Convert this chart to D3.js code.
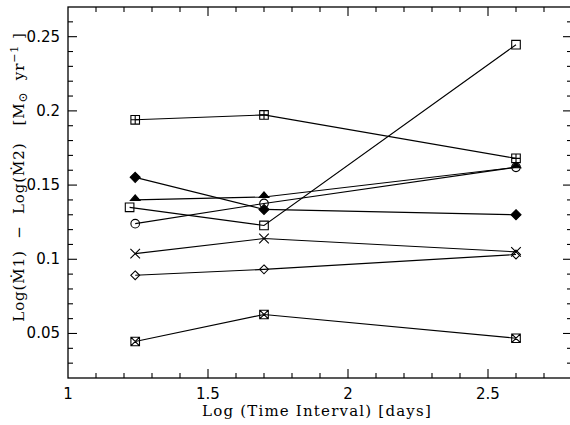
<!DOCTYPE html>
<html>
<head>
<meta charset="utf-8">
<script src="https://cdn.jsdelivr.net/npm/d3@7"></script>
<style>
  body { margin: 0; background: #fff; }
  svg { display: block; }
  text { fill: #000; }
</style>
</head>
<body>
<svg id="chart" width="570" height="425"></svg>
<script>
// x positions of the three intervals
var timeX = [1.24, 1.70, 2.60];
var timeXSquare = [1.22, 1.70, 2.60];

var plusSquare = [0.194, 0.1973, 0.168];
var filledDiamond = [0.1552, 0.1336, 0.130];
var filledTriangle = [0.140, 0.142, 0.162];
var openSquare = [0.135, 0.1228, 0.2446];
var openCircle = [0.124, 0.1376, 0.162];
var crossMark = [0.1038, 0.114, 0.105];
var openDiamond = [0.0892, 0.0932, 0.1032];
var crossSquare = [0.0446, 0.0628, 0.0468];

var xTicks = [1, 1.5, 2, 2.5];
var yTicks = [0.05, 0.1, 0.15, 0.2, 0.25];

var series = [
    { sym: "plusSquare", xs: timeX, ys: plusSquare },
    { sym: "filledDiamond", xs: timeX, ys: filledDiamond },
    { sym: "openSquare", xs: timeXSquare, ys: openSquare },
    { sym: "openCircle", xs: timeX, ys: openCircle },
    { sym: "filledTriangle", xs: timeX, ys: filledTriangle },
    { sym: "cross", xs: timeX, ys: crossMark },
    { sym: "openDiamond", xs: timeX, ys: openDiamond },
    { sym: "crossSquare", xs: timeX, ys: crossSquare }
];

var margin = { top: 7, right: -2, bottom: 47, left: 68 };
var width = 570, height = 425;

var x = d3.scaleLinear().domain([1, 2.8]).range([margin.left, width - margin.right]);
var y = d3.scaleLinear().domain([0.02, 0.27]).range([height - margin.bottom, margin.top]);

var svg = d3.select("#chart");

// frame
svg.append("rect")
    .attr("x", x(1)).attr("y", y(0.27))
    .attr("width", x(2.8) - x(1)).attr("height", y(0.02) - y(0.27))
    .attr("fill", "none").attr("stroke", "#000").attr("stroke-width", 1.3);

var xMinor = d3.range(11, 28).map(d => d / 10);
var yMinor = d3.range(3, 27).map(d => d / 100);
var isMajorX = v => Math.abs(v * 2 - Math.round(v * 2)) < 1e-6;
var isMajorY = v => Math.abs(v * 20 - Math.round(v * 20)) < 1e-6;

var ticks = svg.append("g").attr("stroke", "#000").attr("stroke-width", 1.1);
xMinor.forEach(function (v) {
    var len = isMajorX(v) ? 9 : 5;
    ticks.append("line").attr("x1", x(v)).attr("x2", x(v))
        .attr("y1", y(0.02)).attr("y2", y(0.02) - len);
    ticks.append("line").attr("x1", x(v)).attr("x2", x(v))
        .attr("y1", y(0.27)).attr("y2", y(0.27) + len);
});
yMinor.forEach(function (v) {
    var len = isMajorY(v) ? 9 : 5;
    ticks.append("line").attr("x1", x(1)).attr("x2", x(1) + len)
        .attr("y1", y(v)).attr("y2", y(v));
    ticks.append("line").attr("x1", x(2.8)).attr("x2", x(2.8) - len)
        .attr("y1", y(v)).attr("y2", y(v));
});

// tick labels
svg.append("g")
    .attr("font-family", "DejaVu Sans, sans-serif")
    .attr("font-size", 15)
    .attr("text-anchor", "middle")
    .selectAll("text")
    .data(xTicks)
    .join("text")
    .attr("x", d => x(d))
    .attr("y", 399)
    .text(d => d3.format("")(d));

svg.append("g")
    .attr("font-family", "DejaVu Sans, sans-serif")
    .attr("font-size", 15)
    .attr("text-anchor", "end")
    .selectAll("text")
    .data(yTicks)
    .join("text")
    .attr("x", 60)
    .attr("y", d => y(d) + 5)
    .text(d => d3.format("")(d));

// axis titles
svg.append("text")
    .attr("x", 317).attr("y", 416)
    .attr("text-anchor", "middle")
    .attr("font-family", "DejaVu Serif, serif")
    .attr("font-size", 15)
    .attr("letter-spacing", 1.2)
    .text("Log (Time Interval) [days]");

var ylab = svg.append("text")
    .attr("transform", "translate(24,177) rotate(-90)")
    .attr("text-anchor", "middle")
    .attr("font-family", "DejaVu Serif, serif")
    .attr("font-size", 15)
    .attr("letter-spacing", 0.9)
    .attr("xml:space", "preserve");
ylab.append("tspan").text("Log(\u1E401)  \u2212  Log(\u1E402)   [M");
ylab.append("tspan").attr("font-size", 12).attr("dy", 3).text("\u2299");
ylab.append("tspan").attr("dy", -3).text("  yr");
ylab.append("tspan").attr("font-size", 11).attr("dy", -6).text("\u22121");
ylab.append("tspan").attr("dy", 6).text(" ]");

// lines
var line = d3.line().x(d => x(d[0])).y(d => y(d[1]));
svg.append("g")
    .selectAll("path")
    .data(series)
    .join("path")
    .attr("d", s => line(s.xs.map((v, i) => [v, s.ys[i]])))
    .attr("fill", "none")
    .attr("stroke", "#000")
    .attr("stroke-width", 1.1);

// markers
var r = 4.3;
function markerPath(sym, cx, cy) {
    var p = d3.path();
    if (sym == "plusSquare" || sym == "openSquare" || sym == "crossSquare") {
        p.rect(cx - r, cy - r, 2 * r, 2 * r);
        if (sym == "plusSquare") {
            p.moveTo(cx, cy - r); p.lineTo(cx, cy + r);
            p.moveTo(cx - r, cy); p.lineTo(cx + r, cy);
        }
        if (sym == "crossSquare") {
            p.moveTo(cx - r, cy - r); p.lineTo(cx + r, cy + r);
            p.moveTo(cx + r, cy - r); p.lineTo(cx - r, cy + r);
        }
    } else if (sym == "filledDiamond" || sym == "openDiamond") {
        var d = sym == "filledDiamond" ? 5 : 4.4;
        p.moveTo(cx, cy - d); p.lineTo(cx + d, cy); p.lineTo(cx, cy + d);
        p.lineTo(cx - d, cy); p.closePath();
    } else if (sym == "openCircle") {
        p.moveTo(cx + r, cy); p.arc(cx, cy, r, 0, 2 * Math.PI);
    } else if (sym == "filledTriangle") {
        p.moveTo(cx, cy - 5); p.lineTo(cx + 4.8, cy + 0.5); p.lineTo(cx - 4.8, cy + 0.5);
        p.closePath();
    } else if (sym == "cross") {
        p.moveTo(cx - 4.8, cy - 4.8); p.lineTo(cx + 4.8, cy + 4.8);
        p.moveTo(cx + 4.8, cy - 4.8); p.lineTo(cx - 4.8, cy + 4.8);
    }
    return p.toString();
}

series.forEach(function (s) {
    var filled = s.sym == "filledDiamond" || s.sym == "filledTriangle";
    svg.append("g")
        .selectAll("path")
        .data(s.xs.map((v, i) => [v, s.ys[i]]))
        .join("path")
        .attr("d", d => markerPath(s.sym, x(d[0]), y(d[1])))
        .attr("fill", filled ? "#000" : "#fff")
        .attr("fill-opacity", filled ? 1 : 0)
        .attr("stroke", "#000")
        .attr("stroke-width", 1.1);
});
</script>
</body>
</html>
